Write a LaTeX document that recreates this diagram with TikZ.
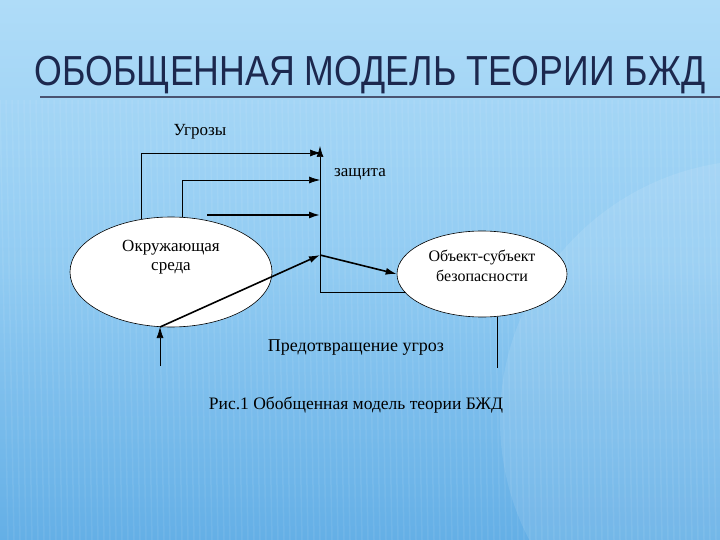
\documentclass[tikz,border=0pt]{standalone}
\usepackage{fontspec}
\setmainfont{Liberation Serif}
\newfontfamily\titlefont{Liberation Sans}
\usetikzlibrary{arrows.meta,shapes.geometric}
\definecolor{bgtop}{RGB}{175,220,248}
\definecolor{bgmid}{RGB}{145,203,242}
\definecolor{bgbot}{RGB}{100,175,230}
\definecolor{titlecol}{RGB}{28,40,78}
\tikzset{
  ell/.style={ellipse, draw=black, fill=white, line width=0.6pt, inner sep=0pt},
  lbl/.style={font=\fontsize{17}{19}\selectfont, text=black},
  intext/.style={align=center, inner sep=0pt},
  thin/.style={draw=black, line width=0.7pt},
  thick/.style={draw=black, line width=1.6pt},
  tip/.style={-{Latex[length=11pt,width=7pt]}},
}
\begin{document}
\begin{tikzpicture}[x=1pt,y=-1pt]
\useasboundingbox (0,0) rectangle (720,540);
% background
\shade[top color=bgtop, bottom color=bgbot, middle color=bgmid] (0,0) rectangle (720,540);
\fill[white, opacity=0.10] (760,420) circle (260);
\foreach \i in {0,6,...,720} {
  \draw[white, opacity=0.07, line width=1.5pt] (\i,100) -- (\i+8,540);
}
% title
\node[text=titlecol, anchor=base, inner sep=0pt] (title) at (370,86)
  {\scalebox{0.85}[1]{\titlefont\fontsize{42}{44}\selectfont ОБОБЩЕННАЯ МОДЕЛЬ ТЕОРИИ БЖД}};
\draw[draw=titlecol!80, line width=1.2pt] (40,97) -- (720,97);
% ellipses
\node[ell, minimum width=202pt, minimum height=110pt] (env) at (171,272) {};
\node[ell, minimum width=170pt, minimum height=86pt] (obj) at (482,274) {};
\node[intext, font=\fontsize{17}{19}\selectfont] (envt) at (171,257) {Окружающая\\среда};
\node[intext, font=\fontsize{16}{20}\selectfont] (objt) at (482,266) {Объект-субъект\\безопасности};
% coordinates
\coordinate (vtop) at (320,146);
\coordinate (vbot) at (320,292);
\coordinate (a1) at (141,153);
\coordinate (a1e) at (321,153);
\coordinate (a2) at (182,180);
\coordinate (a2e) at (320,180);
\coordinate (a3) at (207,215);
\coordinate (a3e) at (320,215);
\coordinate (mid) at (320,255);
\coordinate (lb) at (160,327);
\coordinate (lbb) at (160,366);
\coordinate (r1) at (405,292);
\coordinate (rb) at (497,317);
\coordinate (rbb) at (497,368);
\coordinate (e1) at (141,219);
\coordinate (e2) at (182,217);
% connectors
\draw[thin, tip] (vbot) -- (vtop);
\draw[thin] (e1) -- (a1);
\draw[thin, tip] (a1) -- (a1e);
\draw[thin] (e2) -- (a2);
\draw[thin, tip] (a2) -- (a2e);
\draw[thick, tip] (a3) -- (a3e);
\draw[thick, tip] (lb) -- (mid);
\draw[thick, tip] (mid) -- (obj.west);
\draw[thin] (vbot) -- (r1);
\draw[thin, tip] (lbb) -- (lb);
\draw[thin] (rb) -- (rbb);
% labels
\node[lbl] (threat) at (200,132) {Угрозы};
\node[lbl] (prot) at (360,174) {защита};
\node[lbl, font=\fontsize{18}{20}\selectfont] (prev) at (356,348) {Предотвращение угроз};
\node[lbl, font=\fontsize{17.5}{20}\selectfont] (cap) at (356,405) {Рис.1 Обобщенная модель теории БЖД};
\end{tikzpicture}
\end{document}
